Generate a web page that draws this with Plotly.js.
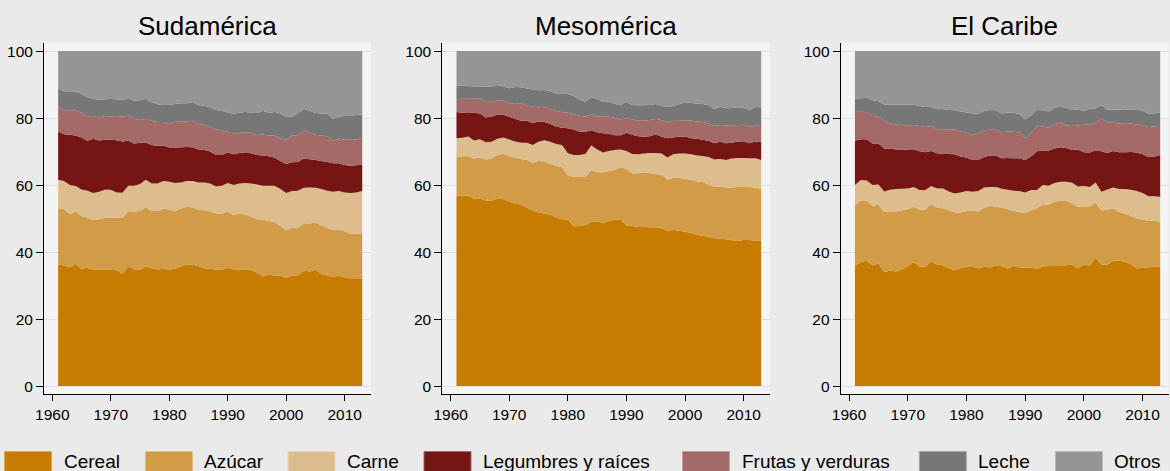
<!DOCTYPE html>
<html>
<head>
<meta charset="utf-8">
<script src="https://cdn.plot.ly/plotly-3.0.1.min.js"></script>
<style>
  html, body { margin: 0; padding: 0; background: #EAEAEA; }
  #chart { width: 1170px; height: 471px; }
</style>
</head>
<body>
<div id="chart"></div>
<script>
// ---------------- DATA ----------------
// Years covered by each panel
const years = [];
for (let y = 1961; y <= 2013; y++) years.push(y);

const categories = ["Cereal", "Azúcar", "Carne", "Legumbres y raíces", "Frutas y verduras", "Leche", "Otros"];
const regions = ["Sudamérica", "Mesomérica", "El Caribe"];
const xTicks = [1960, 1970, 1980, 1990, 2000, 2010];
const yTicks = [0, 20, 40, 60, 80, 100];
const total = 100; // shares add up to 100 %

// Cumulative share (%) of the diet up to and including each category
// --- Sudamérica ---
const sud_cereal = [36.3,36.0,35.5,36.5,35.0,35.3,34.7,34.7,34.7,
  34.7,34.6,33.5,35.8,34.8,34.8,35.7,35.2,34.8,35.0,
  34.7,35.0,35.7,36.2,36.2,35.8,35.2,35.0,34.7,34.7,
  35.3,34.8,34.7,34.7,34.7,33.8,32.8,33.2,33.0,33.0,
  32.3,33.0,33.0,34.5,34.2,34.7,33.5,33.0,32.5,33.0,
  32.5,32.0,32.0,32.0];
const sud_azucar = [53.0,52.8,51.3,52.2,50.8,50.3,49.6,49.8,50.2,
  50.3,50.3,50.3,52.2,52.1,52.3,53.4,52.3,52.3,53.0,
  52.6,52.2,53.0,53.5,53.3,52.7,52.5,52.2,51.5,51.5,
  52.1,51.0,51.5,51.2,50.6,49.8,49.7,49.3,49.0,47.8,
  46.5,47.2,47.3,48.6,48.5,48.8,48.0,47.2,46.6,46.8,
  46.2,45.5,45.5,45.6];
const sud_carne = [61.6,61.2,60.0,59.7,58.7,58.3,57.6,58.0,58.6,
  58.6,57.8,57.7,59.8,59.8,60.3,61.6,60.5,60.5,61.2,
  61.0,60.6,60.8,61.2,61.2,60.8,60.8,60.5,59.6,59.8,
  60.6,60.0,60.5,60.6,60.5,60.2,59.8,59.8,59.8,58.8,
  57.6,58.2,58.3,59.2,59.3,59.2,58.8,58.3,58.0,58.2,
  57.8,57.6,57.8,58.2];
const sud_legumbres = [76.0,75.2,75.0,74.8,74.2,73.2,73.8,73.3,73.5,
  73.5,73.4,73.0,73.2,72.4,72.6,72.7,72.0,71.7,71.8,
  71.2,71.2,71.3,71.4,71.3,70.6,70.5,70.0,69.0,69.0,
  69.7,69.2,69.6,69.8,69.5,69.0,68.8,68.6,68.2,67.2,
  66.3,66.8,66.9,67.9,67.7,67.5,67.2,66.9,66.5,66.5,
  66.0,65.8,65.9,66.2];
const sud_frutas = [83.3,82.3,82.3,82.2,81.6,80.5,80.6,80.2,80.6,
  80.5,80.6,80.4,80.8,79.8,79.4,79.8,79.2,78.8,78.8,
  78.2,78.9,79.0,79.0,79.2,78.2,78.0,77.4,76.6,76.4,
  75.9,75.3,75.6,75.8,75.6,74.9,75.1,74.8,74.8,74.0,
  73.5,74.8,74.7,76.5,75.7,75.0,74.8,74.6,73.2,73.9,
  73.5,73.5,73.6,74.2];
const sud_leche = [88.8,88.0,88.0,87.9,87.2,86.2,85.8,85.4,85.6,
  85.7,85.6,85.4,86.0,85.2,85.3,85.8,84.7,84.1,83.9,
  83.9,84.2,84.4,84.4,84.8,83.8,83.7,83.2,82.4,82.2,
  81.7,81.2,81.7,81.8,81.6,81.5,82.2,81.5,81.8,81.4,
  80.3,80.5,81.4,82.8,82.2,81.5,81.4,81.3,79.8,80.5,
  80.6,80.6,80.9,81.1];

// --- Mesomérica ---
const meso_cereal = [57.0,56.7,56.9,55.9,56.0,55.4,55.4,55.9,55.8,
  55.1,54.4,54.2,53.2,52.4,51.8,51.5,51.2,50.3,49.8,
  49.7,47.7,47.8,48.1,49.0,49.2,48.7,49.2,49.7,49.6,
  48.0,47.8,47.5,47.5,47.4,47.4,47.1,46.4,46.7,46.4,
  46.1,45.8,45.2,44.9,44.6,44.1,44.0,43.8,43.5,43.3,
  43.6,43.6,43.4,43.3];
const meso_azucar = [68.3,68.6,68.7,67.9,68.2,67.6,67.9,69.0,69.4,
  68.6,68.2,67.8,67.5,66.7,67.2,67.1,66.3,65.8,65.3,
  63.0,62.4,62.4,62.4,64.5,63.8,63.8,64.2,64.5,65.4,
  64.8,63.5,63.5,63.8,63.5,63.4,63.1,61.7,62.2,62.1,
  61.9,61.6,61.1,60.9,60.2,59.4,59.6,59.3,59.3,59.4,
  59.4,59.4,59.3,58.8];
const meso_carne = [74.0,74.1,74.5,73.3,73.7,72.8,72.9,73.8,74.2,
  73.6,73.0,72.6,72.6,72.0,72.9,73.4,72.9,72.3,72.0,
  69.5,69.0,69.0,69.3,71.8,70.6,69.7,70.2,70.5,70.6,
  70.2,69.3,69.2,69.4,69.6,69.6,69.4,68.2,69.2,69.4,
  69.4,69.2,68.8,68.7,68.4,67.6,67.8,67.5,67.9,68.1,
  68.1,68.0,68.0,67.5];
const meso_legumbres = [81.8,81.6,81.5,81.6,81.4,80.2,80.5,81.1,81.0,
  80.4,79.8,79.2,79.2,78.5,79.0,78.8,78.2,77.5,77.1,
  77.0,76.6,75.9,75.9,76.4,75.8,75.5,75.3,74.9,74.9,
  75.6,75.0,74.6,74.4,74.6,75.2,74.4,74.0,74.2,74.5,
  74.5,74.0,73.8,73.5,73.2,72.5,72.9,72.5,72.6,73.0,
  73.1,72.5,73.0,72.8];
const meso_frutas = [85.6,85.8,85.8,85.8,85.9,84.8,84.9,85.3,85.2,
  84.5,84.2,84.4,83.8,83.4,83.2,83.4,82.6,82.1,81.8,
  81.6,81.2,80.6,80.5,81.1,80.5,80.4,80.4,80.1,79.6,
  80.0,79.6,79.2,79.2,79.4,79.8,79.4,78.7,79.1,79.2,
  79.3,79.3,79.0,78.8,78.4,77.6,77.9,77.7,77.8,77.9,
  78.0,77.4,77.7,77.6];
const meso_leche = [89.6,89.7,89.7,89.3,89.4,89.4,89.3,89.9,89.5,
  88.9,89.3,89.2,88.8,88.5,88.3,88.4,88.0,87.3,87.2,
  87.2,86.6,85.5,84.9,86.2,85.8,84.8,84.9,84.3,83.8,
  84.9,83.9,83.8,83.8,83.9,84.2,83.6,83.3,83.6,84.2,
  84.6,84.6,84.3,84.2,83.8,82.7,83.4,82.9,83.0,83.2,
  83.1,82.3,83.3,83.2];

// --- El Caribe ---
const car_cereal = [36.0,37.0,37.5,36.0,36.6,34.0,34.5,34.2,34.8,
  35.8,37.0,35.7,35.6,37.2,36.3,36.1,35.2,34.6,35.2,
  35.7,35.8,35.1,35.6,35.4,36.1,35.8,35.0,35.9,35.4,
  35.4,35.3,35.0,35.6,36.1,36.1,36.1,36.1,36.3,35.2,
  36.3,35.9,38.3,36.2,36.2,37.4,37.4,37.1,36.4,35.1,
  35.3,35.4,35.8,35.6];
const car_azucar = [54.0,55.5,55.3,53.8,54.2,52.0,52.2,52.1,52.5,
  52.8,53.5,52.7,52.7,54.3,53.3,53.1,52.5,51.8,51.8,
  52.3,52.4,52.1,53.2,53.8,53.5,53.3,52.8,52.3,52.0,
  51.6,52.5,53.1,54.3,54.1,55.0,55.3,55.3,54.5,53.5,
  53.7,53.6,54.8,52.4,52.7,53.0,52.0,51.5,50.8,50.1,
  49.7,49.3,49.5,48.9];
const car_carne = [60.0,61.5,61.4,60.0,60.2,58.1,58.6,58.8,58.9,
  59.0,59.4,58.5,58.5,59.7,59.0,59.0,58.1,57.5,57.8,
  58.2,58.0,58.2,59.3,59.4,59.4,58.9,58.6,58.3,58.2,
  57.8,58.5,58.5,60.0,59.8,60.6,61.0,61.0,60.7,59.6,
  59.7,59.4,60.8,58.0,58.7,59.3,58.8,58.8,58.6,58.2,
  57.6,56.7,56.7,56.5];
const car_legumbres = [73.2,73.7,73.7,72.4,72.4,70.9,70.9,70.6,70.6,
  70.6,70.7,70.1,69.8,70.2,69.5,69.3,69.3,69.2,68.5,
  68.2,67.5,67.5,68.4,68.8,68.8,68.0,68.1,68.0,68.0,
  67.5,68.5,70.1,70.3,70.3,70.9,71.3,71.1,70.5,70.6,
  69.8,69.7,70.4,70.1,69.6,70.2,69.8,69.8,69.9,69.7,
  69.2,68.4,68.5,69.0];
const car_frutas = [81.8,81.9,81.8,80.6,80.5,79.2,78.4,78.0,77.9,
  77.7,77.9,77.6,77.3,77.7,76.7,76.7,76.6,76.7,76.0,
  75.6,75.1,75.3,76.3,76.5,76.5,75.8,76.0,75.9,75.7,
  74.0,75.6,77.8,77.5,77.1,78.2,78.7,77.7,78.0,77.8,
  78.0,78.1,78.7,79.9,78.7,78.6,78.4,78.5,78.4,78.1,
  77.9,77.3,77.5,77.7];
const car_leche = [85.8,85.9,86.1,85.3,85.1,84.0,84.0,84.0,84.0,
  84.0,84.0,83.6,83.3,83.4,82.6,82.7,82.4,82.3,82.0,
  81.7,81.4,81.3,82.1,82.4,82.3,81.4,81.7,81.6,81.2,
  79.6,80.8,82.4,82.3,82.0,83.1,83.4,83.0,82.4,82.5,
  82.2,82.8,82.9,83.8,82.5,82.5,82.5,82.6,82.4,82.6,
  82.2,81.3,81.2,81.8];

// ---------------- STYLE ----------------
const colors = ["#C57C00", "#D19B48", "#DDBD8D", "#761614", "#A36A68", "#777777", "#959595"];
const FONT = "Liberation Sans, Arial, Helvetica, sans-serif";
const W = 1170, H = 471;

const totalTop = years.map(() => total);
const panels = [
  [sud_cereal, sud_azucar, sud_carne, sud_legumbres, sud_frutas, sud_leche, totalTop],
  [meso_cereal, meso_azucar, meso_carne, meso_legumbres, meso_frutas, meso_leche, totalTop],
  [car_cereal, car_azucar, car_carne, car_legumbres, car_frutas, car_leche, totalTop]
];

// panel pixel extents (left axis line -> right end of x axis)
const panelPx = [[44, 371], [442.3, 770], [840.7, 1169]];
const plotTopPx = 42.7, plotBotPx = 394.3;

const traces = [];
panels.forEach((layers, p) => {
  const sfx = p === 0 ? "" : String(p + 1);
  layers.forEach((ys, k) => {
    traces.push({
      type: "scatter",
      x: years,
      y: ys,
      mode: "none",
      fill: k === 0 ? "tozeroy" : "tonexty",
      fillcolor: colors[k],
      name: categories[k],
      xaxis: "x" + sfx,
      yaxis: "y" + sfx,
      showlegend: false,
      hoverinfo: "skip"
    });
  });
});

const layout = {
  width: W, height: H,
  margin: {l: 0, r: 0, t: 0, b: 0},
  paper_bgcolor: "#EAEAEA",
  plot_bgcolor: "#F4F4F4",
  font: {family: FONT, color: "#000", size: 15.5},
  showlegend: false,
  shapes: [],
  annotations: []
};

panelPx.forEach((px, p) => {
  const sfx = p === 0 ? "" : String(p + 1);
  layout["xaxis" + sfx] = {
    domain: [px[0] / W, px[1] / W],
    range: [1958.58, 2014.5],
    anchor: "y" + sfx,
    tickvals: xTicks,
    ticktext: xTicks.map(String),
    ticks: "outside", ticklen: 6, tickwidth: 1, tickcolor: "#000",
    showline: true, linecolor: "#000", linewidth: 1,
    showgrid: false, zeroline: false,
    tickfont: {family: FONT, size: 15.5, color: "#000"},
    fixedrange: true
  };
  layout["yaxis" + sfx] = {
    domain: [1 - plotBotPx / H, 1 - plotTopPx / H],
    range: [-2.45, 102.5],
    anchor: "x" + sfx,
    tickvals: yTicks,
    ticktext: yTicks.map(String),
    ticks: "outside", ticklen: 7, tickwidth: 1, tickcolor: "#000",
    showline: true, linecolor: "#000", linewidth: 1,
    showgrid: true, gridcolor: "#DAE1E7", gridwidth: 1,
    zeroline: false,
    tickfont: {family: FONT, size: 15.5, color: "#000"},
    fixedrange: true
  };
  layout.annotations.push({
    text: regions[p],
    xref: "paper", yref: "paper",
    x: (px[0] + px[1]) / 2 / W, y: 1 - 26 / H,
    xanchor: "center", yanchor: "middle",
    showarrow: false,
    font: {family: FONT, size: 26, color: "#000"}
  });
});

// Legend drawn as swatches + text
function lighten(hex, f) {
  const n = parseInt(hex.slice(1), 16);
  const r = (n >> 16) & 255, g = (n >> 8) & 255, b = n & 255;
  const m = c => Math.round(c + (255 - c) * f);
  return "rgb(" + m(r) + "," + m(g) + "," + m(b) + ")";
}
const legendX = [4.6, 145.4, 288, 424, 682.5, 919.3, 1055.4];
const swW = 47, swTop = 451.5, swBot = 473;
categories.forEach((c, k) => {
  layout.shapes.push({
    type: "rect", xref: "paper", yref: "paper",
    x0: legendX[k] / W, x1: (legendX[k] + swW) / W,
    y0: 1 - swBot / H, y1: 1 - swTop / H,
    fillcolor: colors[k],
    line: {color: lighten(colors[k], 0.35), width: 1}
  });
  layout.annotations.push({
    text: c,
    xref: "paper", yref: "paper",
    x: (legendX[k] + swW + 10) / W, y: 1 - 461 / H,
    xanchor: "left", yanchor: "middle",
    showarrow: false,
    font: {family: FONT, size: 19, color: "#000"}
  });
});

Plotly.newPlot("chart", traces, layout, {staticPlot: true, displayModeBar: false});
</script>
</body>
</html>
